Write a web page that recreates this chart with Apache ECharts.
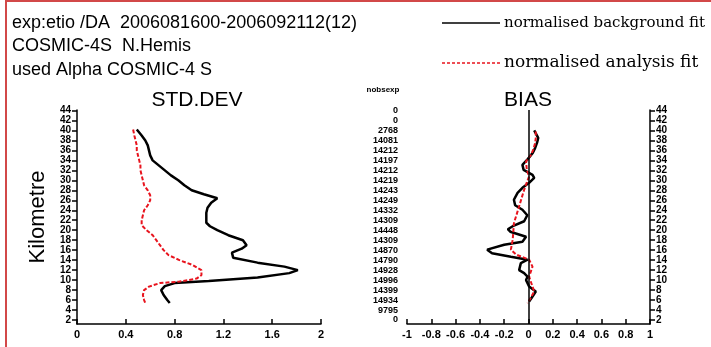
<!DOCTYPE html>
<html><head><meta charset="utf-8">
<script src="https://cdn.jsdelivr.net/npm/echarts@6/dist/echarts.min.js"></script>
<style>html,body{margin:0;padding:0;background:#fff}#c{width:711px;height:347px}</style>
</head><body><div id="c"></div>
<script>
// ---- data ----
const kmTicks = [2,4,6,8,10,12,14,16,18,20,22,24,26,28,30,32,34,36,38,40,42,44];
const nobsKm = [44,42,40,38,36,34,32,30,28,26,24,22,20,18,16,14,12,10,8,6,4,2];
const nobsexp = [0,0,2768,14081,14212,14197,14212,14219,14243,14249,14332,14309,14448,14309,14870,14790,14928,14996,14399,14934,9795,0];
const stdXTicks = ['0','0.4','0.8','1.2','1.6','2'];
const biasXTicks = ['-1','-0.8','-0.6','-0.4','-0.2','0','0.2','0.4','0.6','0.8','1'];

const stdBgKm  = [40.2,39,38,37,36,35,34,33,32,31,30,29,28,27.2,26.4,25.5,24.5,23.5,22.5,21.5,20.8,20,19,18,17,16.3,15.5,14.5,13.5,12.7,12,11.4,10.5,9.8,9.4,8.8,8,7,6,5.4];
const stdBgVal = [0.49,0.53,0.56,0.58,0.59,0.60,0.62,0.67,0.72,0.77,0.83,0.88,0.94,1.04,1.15,1.10,1.07,1.06,1.06,1.06,1.09,1.15,1.24,1.36,1.39,1.35,1.27,1.28,1.48,1.70,1.81,1.74,1.48,1.08,0.80,0.72,0.69,0.71,0.74,0.76];
const stdAnKm  = [40.2,39,38,37,36,35,34,33,32,31,30,29,28,27,26,25,24,23,22,21,20,19,18,17,16,15,14,13,12,11,10.3,9.7,9.4,8.7,8,7,6,5.4];
const stdAnVal = [0.46,0.47,0.48,0.49,0.49,0.50,0.51,0.52,0.52,0.53,0.54,0.55,0.58,0.60,0.60,0.58,0.55,0.54,0.53,0.53,0.57,0.62,0.65,0.68,0.71,0.75,0.84,0.95,1.02,1.02,0.98,0.84,0.68,0.59,0.55,0.54,0.55,0.56];

const biasBgKm  = [40.0,39.4,38.5,37.5,36.5,35.5,34.2,33.1,32.1,31.1,30.5,29.5,28.5,27.5,26.1,25,24.1,23,21.8,20.8,20.2,19.7,18.7,17.7,17.1,16.1,15.4,14.7,14.1,13.4,12.0,11.4,10.7,10.0,8.7,7.7,6.7,5.7];
const biasBgVal = [0.047,0.06,0.08,0.07,0.055,0.035,-0.008,-0.05,-0.04,0.033,0.047,0.005,-0.05,-0.09,-0.12,-0.11,-0.05,-0.01,-0.036,-0.13,-0.17,-0.15,-0.02,-0.05,-0.20,-0.34,-0.30,-0.145,-0.008,-0.063,-0.077,-0.036,-0.008,-0.02,0.005,0.06,0.033,0.005];
const biasAnKm  = [39.8,38.5,37.5,36.2,35.1,33.8,32.1,30.8,28.1,24.8,21.4,18.1,16.1,15.1,14.1,12.7,10.7,7.7,5.35];
const biasAnVal = [0.06,0.06,0.055,0.04,0.02,-0.02,-0.014,0.005,-0.036,-0.077,-0.12,-0.13,-0.145,-0.10,0.005,0.033,0.005,0.047,-0.008];

// ---- build ----
const pairs = (vals, kms) => vals.map((v, i) => [v, kms[i]]);
const nobsMap = {};
nobsKm.forEach((k, i) => { nobsMap[k] = nobsexp[i]; });
const fmt1 = v => { const r = Math.round(v * 10) / 10; return r === 0 ? '0' : String(r); };

const tickFont = { color: '#000', fontFamily: 'Liberation Sans', fontWeight: 'bold' };
const blk = { color: '#000', width: 1.5 };

const chart = echarts.init(document.getElementById('c'), null, { renderer: 'canvas' });
chart.setOption({
  animation: false,
  backgroundColor: '#fff',
  grid: [
    { left: 77, right: 390, top: 110, bottom: 23 },
    { left: 407, right: 61, top: 110, bottom: 23 }
  ],
  xAxis: [
    { gridIndex: 0, type: 'value', min: 0, max: 2, interval: 0.4,
      axisLine: { lineStyle: blk }, axisTick: { inside: true, length: 5, lineStyle: blk },
      axisLabel: Object.assign({ fontSize: 11, margin: 5, formatter: v => stdXTicks[Math.round(v / 0.4)] }, tickFont),
      splitLine: { show: false } },
    { gridIndex: 1, type: 'value', min: -1, max: 1, interval: 0.2,
      axisLine: { lineStyle: blk }, axisTick: { inside: true, length: 5, lineStyle: blk },
      axisLabel: Object.assign({ fontSize: 11, margin: 5, formatter: v => biasXTicks[Math.round((v + 1) / 0.2)] }, tickFont),
      splitLine: { show: false } }
  ],
  yAxis: [
    { gridIndex: 0, type: 'value', min: 1.2, max: 44.1, position: 'left',
      axisLine: { show: true, lineStyle: blk },
      axisTick: { show: true, customValues: kmTicks, length: 5, lineStyle: blk },
      axisLabel: Object.assign({ customValues: kmTicks, fontSize: 10, margin: 6 }, tickFont),
      splitLine: { show: false } },
    { gridIndex: 1, type: 'value', min: 1.2, max: 44.1, position: 'left',
      axisLine: { show: false }, axisTick: { show: false },
      axisLabel: Object.assign({ customValues: nobsKm, fontSize: 9, margin: 9, formatter: v => String(nobsMap[Math.round(v)]) }, tickFont),
      splitLine: { show: false } },
    { gridIndex: 1, type: 'value', min: 1.2, max: 44.1, position: 'right',
      axisLine: { show: true, lineStyle: blk },
      axisTick: { show: true, customValues: kmTicks, length: 5, lineStyle: blk },
      axisLabel: Object.assign({ customValues: kmTicks, fontSize: 10, margin: 6 }, tickFont),
      splitLine: { show: false } }
  ],
  series: [
    { type: 'line', xAxisIndex: 0, yAxisIndex: 0, showSymbol: false, data: pairs(stdBgVal, stdBgKm),
      lineStyle: { color: '#000', width: 2.5 }, z: 3 },
    { type: 'line', xAxisIndex: 0, yAxisIndex: 0, showSymbol: false, data: pairs(stdAnVal, stdAnKm),
      lineStyle: { color: '#e8141e', width: 2, type: [4, 2] }, z: 4 },
    { type: 'line', xAxisIndex: 1, yAxisIndex: 2, showSymbol: false, data: pairs(biasBgVal, biasBgKm),
      lineStyle: { color: '#000', width: 2.5 }, z: 3,
      markLine: { silent: true, symbol: 'none', label: { show: false },
        lineStyle: { color: '#000', width: 1.5, type: 'solid' }, data: [{ xAxis: 0 }] } },
    { type: 'line', xAxisIndex: 1, yAxisIndex: 2, showSymbol: false, data: pairs(biasAnVal, biasAnKm),
      lineStyle: { color: '#e8141e', width: 2, type: [4, 2] }, z: 4 }
  ],
  graphic: [
    { type: 'rect', shape: { x: 6, y: 1, width: 720, height: 360 }, style: { fill: 'none', stroke: '#d24848', lineWidth: 2 }, z: 10 },
    { type: 'text', style: { x: 12, y: 23, text: 'exp:etio /DA  2006081600-2006092112(12)', font: '18px "Liberation Sans"', fill: '#000', verticalAlign: 'middle' } },
    { type: 'text', style: { x: 12, y: 46, text: 'COSMIC-4S  N.Hemis', font: '18px "Liberation Sans"', fill: '#000', verticalAlign: 'middle' } },
    { type: 'text', style: { x: 12, y: 70, text: 'used Alpha COSMIC-4 S', font: '18px "Liberation Sans"', fill: '#000', verticalAlign: 'middle' } },
    { type: 'line', shape: { x1: 442, y1: 23, x2: 500, y2: 23 }, style: { stroke: '#000', lineWidth: 1.5 } },
    { type: 'text', style: { x: 504, y: 23, text: 'normalised background fit', font: '15px "DejaVu Serif"', fill: '#000', verticalAlign: 'middle' } },
    { type: 'line', shape: { x1: 442, y1: 63, x2: 500, y2: 63 }, style: { stroke: '#e8141e', lineWidth: 1.5, lineDash: [3, 2] } },
    { type: 'text', style: { x: 504, y: 63, text: 'normalised analysis fit', font: '17px "DejaVu Serif"', fill: '#000', verticalAlign: 'middle' } },
    { type: 'text', style: { x: 197, y: 100, text: 'STD.DEV', font: '21px "Liberation Sans"', fill: '#000', align: 'center', verticalAlign: 'middle' } },
    { type: 'text', style: { x: 528, y: 100, text: 'BIAS', font: '21px "Liberation Sans"', fill: '#000', align: 'center', verticalAlign: 'middle' } },
    { type: 'text', style: { x: 383, y: 90, text: 'nobsexp', font: 'bold 8px "Liberation Sans"', fill: '#000', align: 'center', verticalAlign: 'middle' } },
    { type: 'text', x: 38, y: 217, rotation: Math.PI / 2, style: { x: 0, y: 0, text: 'Kilometre', font: '22px "Liberation Sans"', fill: '#000', align: 'center', verticalAlign: 'middle' } }
  ]
});
</script>
</body></html>
